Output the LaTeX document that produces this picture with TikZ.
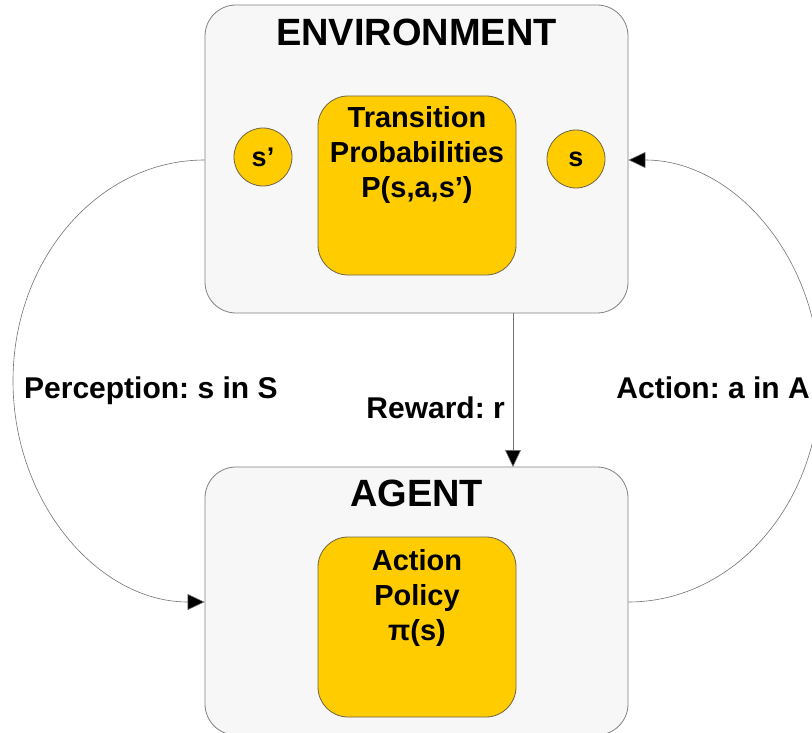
\documentclass[tikz,border=0pt]{standalone}
\usepackage{fontspec}
\setmainfont{Liberation Sans}
\usetikzlibrary{arrows.meta}
\frenchspacing
\definecolor{panelfill}{HTML}{F7F7F7}
\definecolor{panelline}{HTML}{808080}
\definecolor{gold}{HTML}{FFCC00}
\definecolor{goldline}{HTML}{6E6448}
\tikzset{
  panel/.style={draw=panelline, fill=panelfill, line width=0.8pt,
    rounded corners=31pt, inner sep=0pt},
  core/.style={draw=goldline, fill=gold, line width=0.8pt,
    rounded corners=30pt, inner sep=0pt, minimum width=198pt},
  statedot/.style={circle, draw=goldline, fill=gold, line width=0.8pt,
    minimum size=58pt, inner sep=0pt, font=\fontsize{27}{30}\selectfont\bfseries},
  title/.style={font=\fontsize{38}{42}\selectfont\bfseries},
  corelabel/.style={font=\fontsize{29}{35}\selectfont\bfseries, align=center},
  edgelabel/.style={font=\fontsize{30}{35}\selectfont\bfseries, inner sep=0pt},
  flow/.style={draw=black!55, line width=0.6pt,
    -{Triangle[length=17pt,width=16pt,fill=black]}},
}
\begin{document}
\begin{tikzpicture}[x=1pt, y=-1pt]
\useasboundingbox (0,0) rectangle (812,733);

% environment panel
\node[panel, minimum width=423pt, minimum height=308pt] (env) at (416.5,159) {};
\node[title] (envtitle) at (416.5,32) {ENVIRONMENT};
\node[core, minimum height=179pt] (trans) at (417,185.5) {};
% base of a multi-line node is the baseline of its last line
\node[corelabel, anchor=base] (transtxt) at (417,197) {Transition\\Probabilities\\P(s,a,s’)};
\node[statedot] (snext) at (263,157) {s’};
\node[statedot] (scur) at (576,159) {s};

% agent panel
\node[panel, minimum width=423pt, minimum height=268pt] (agent) at (416.5,601) {};
\node[title] (agenttitle) at (416.5,493) {AGENT};
\node[core, minimum height=180pt] (policy) at (417,627) {};
\node[corelabel, anchor=base] (policytxt) at (417,640) {Action\\Policy\\π(s)};

% perception: environment -> agent (left)
\coordinate (pstart) at (env.west |- 0,160);
\coordinate (pend) at (agent.west |- 0,602);
\draw[flow] (pstart) .. controls +(-106,0) and +(0,-122) .. (13,381)
  .. controls +(0,122) and +(-106,0) .. (pend);
\node[edgelabel, anchor=base west] (perc) at (24,398) {Perception: s in S};

% action: agent -> environment (right)
\coordinate (astart) at (agent.east |- 0,602);
\coordinate (aend) at (env.east |- 0,160);
\draw[flow] (astart) .. controls +(106,0) and +(0,122) .. (820,381)
  .. controls +(0,-122) and +(106,0) .. (aend);
\node[edgelabel, anchor=base east] (act) at (810,398) {Action: a in A};

% reward: environment -> agent
\coordinate (rstart) at (513,313);
\coordinate (rend) at (513,467);
\draw[flow] (rstart) -- (rend);
\node[edgelabel, anchor=base east] (rew) at (505,418) {Reward: r};
\end{tikzpicture}
\end{document}
